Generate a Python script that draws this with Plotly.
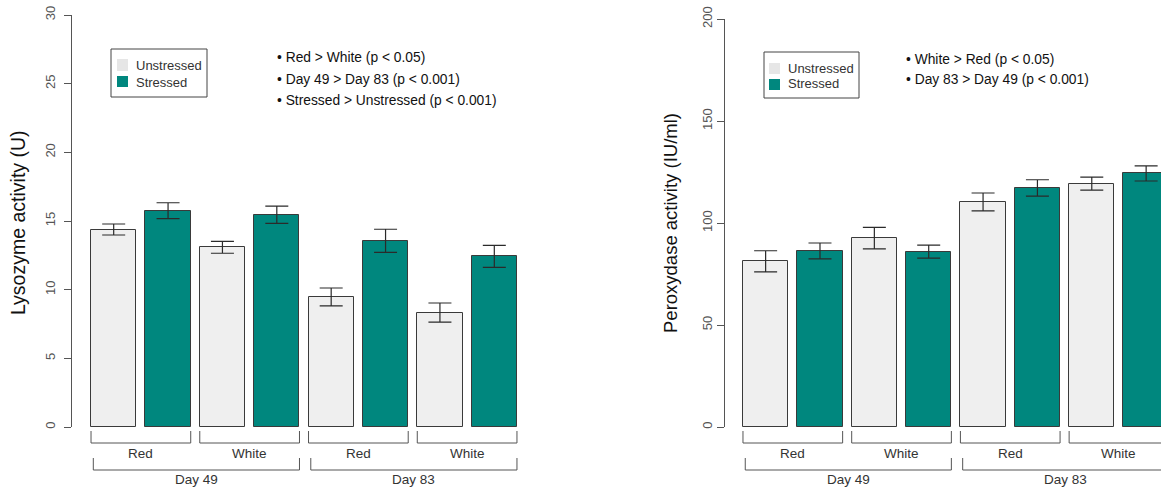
import plotly.graph_objects as go

# ---------------- data ----------------
conditions = ["Unstressed", "Stressed"]
groups = ["Red", "White", "Red", "White"]
days = ["Day 49", "Day 83"]

lyso_unstressed = [14.38, 13.08, 9.47, 8.33]
lyso_unstressed_err = [0.40, 0.43, 0.65, 0.70]
lyso_stressed = [15.75, 15.45, 13.56, 12.42]
lyso_stressed_err = [0.58, 0.63, 0.84, 0.80]

perox_unstressed = [81.2, 92.6, 110.3, 119.3]
perox_unstressed_err = [5.2, 5.3, 4.4, 3.2]
perox_stressed = [86.3, 86.0, 117.2, 124.3]
perox_stressed_err = [3.9, 3.2, 4.0, 3.7]

lyso_notes = ["\u2022 Red > White (p < 0.05)",
              "\u2022 Day 49 > Day 83 (p < 0.001)",
              "\u2022 Stressed > Unstressed (p < 0.001)"]
perox_notes = ["\u2022 White > Red (p < 0.05)",
               "\u2022 Day 83 > Day 49 (p < 0.001)"]

lyso_title = "Lysozyme activity (U)"
perox_title = "Peroxydase activity (IU/ml)"

# ---------------- helpers ----------------
W, H = 1161, 488
FONT = "Liberation Sans, Arial, sans-serif"
TEAL = "#00877E"
LIGHT = "#EFEFEF"
EDGE = "#3A3A3A"


def px(p):
    return p / W


def py(p):
    return 1 - p / H


# R barplot style positions: width 1, space 0.2
n_bars = 8
centers = [0.7 + 1.2 * i for i in range(n_bars)]
left_edge = [c - 0.5 for c in centers]
right_edge = [c + 0.5 for c in centers]
unstressed_x = centers[0::2]
stressed_x = centers[1::2]

fig = go.Figure()


def add_panel(xa, ya, unst, unst_err, st, st_err):
    fig.add_trace(go.Bar(
        x=unstressed_x, y=unst, width=1, name=conditions[0],
        marker=dict(color=LIGHT, line=dict(color=EDGE, width=1)),
        error_y=dict(type="data", array=unst_err, visible=True,
                     color="#2a2a2a", thickness=1.2, width=11.5),
        xaxis=xa, yaxis=ya, showlegend=False))
    fig.add_trace(go.Bar(
        x=stressed_x, y=st, width=1, name=conditions[1],
        marker=dict(color=TEAL, line=dict(color=EDGE, width=1)),
        error_y=dict(type="data", array=st_err, visible=True,
                     color="#2a2a2a", thickness=1.2, width=11.5),
        xaxis=xa, yaxis=ya, showlegend=False))


add_panel("x", "y", lyso_unstressed, lyso_unstressed_err, lyso_stressed, lyso_stressed_err)
add_panel("x2", "y2", perox_unstressed, perox_unstressed_err, perox_stressed, perox_stressed_err)

axis_common = dict(showgrid=False, zeroline=False, automargin=False)
yax_common = dict(
    showgrid=False, zeroline=False, showline=True, linecolor="#555", linewidth=1,
    ticks="outside", ticklen=7, tickcolor="#555", tickangle=-90, automargin=False,
    tickfont=dict(family=FONT, size=13, color="#555"),
)

fig.update_layout(
    width=W, height=H,
    margin=dict(l=0, r=0, t=0, b=0, autoexpand=False),
    paper_bgcolor="white", plot_bgcolor="white",
    font=dict(family=FONT, color="#222"),
    bargap=0,
    showlegend=False,
    xaxis=dict(domain=[px(72), px(534)], range=[-0.22, 9.976],
               showticklabels=False, showline=False, ticks="", **axis_common),
    yaxis=dict(domain=[py(427), py(15)], range=[0, 30], ticklabelstandoff=4,
               tickvals=[0, 5, 10, 15, 20, 25, 30], **yax_common),
    xaxis2=dict(domain=[px(725), 1.0], range=[-0.197, 9.428], anchor="y2",
                showticklabels=False, showline=False, ticks="", **axis_common),
    yaxis2=dict(domain=[py(427), py(19)], range=[0, 200], anchor="x2",
                tickvals=[0, 50, 100, 150, 200], **yax_common),
)

shapes = []
annotations = []

# brackets under the bars
BR_COL = "#555"


def bracket(xref, x0, x1, ytop, ybot):
    return dict(type="path", xref=xref, yref="paper",
                path=f"M{x0},{py(ytop)} L{x0},{py(ybot)} L{x1},{py(ybot)} L{x1},{py(ytop)}",
                line=dict(color=BR_COL, width=1))


for xref in ["x", "x2"]:
    for j, g in enumerate(groups):
        x0, x1 = left_edge[2 * j], right_edge[2 * j + 1]
        shapes.append(bracket(xref, x0, x1, 431, 443))
        annotations.append(dict(xref=xref, yref="paper", x=(x0 + x1) / 2, y=py(453),
                                text=g, showarrow=False, xanchor="center", yanchor="middle",
                                font=dict(family=FONT, size=13.5, color="#333")))
    for d, day in enumerate(days):
        x0, x1 = left_edge[4 * d] + 0.05, right_edge[4 * d + 3]
        shapes.append(bracket(xref, x0, x1, 458, 470))
        annotations.append(dict(xref=xref, yref="paper", x=(x0 + x1) / 2, y=py(479),
                                text=day, showarrow=False, xanchor="center", yanchor="middle",
                                font=dict(family=FONT, size=13.5, color="#333")))

# manual legends


def legend(box, sq_x, sq_ys, txt_x, txt_ys):
    bx0, by0, bx1, by1 = box
    shapes.append(dict(type="rect", xref="paper", yref="paper",
                       x0=px(bx0), x1=px(bx1), y0=py(by1), y1=py(by0),
                       line=dict(color="#444", width=1), fillcolor="white"))
    for (y0, y1), col in zip(sq_ys, ["#E6E6E6", TEAL]):
        shapes.append(dict(type="rect", xref="paper", yref="paper",
                           x0=px(sq_x[0]), x1=px(sq_x[1]), y0=py(y1), y1=py(y0),
                           line=dict(width=0), fillcolor=col))
    for ty, label in zip(txt_ys, conditions):
        annotations.append(dict(xref="paper", yref="paper", x=px(txt_x), y=py(ty),
                                text=label, showarrow=False, xanchor="left", yanchor="middle",
                                font=dict(family=FONT, size=13, color="#333")))


legend((111, 49, 207, 97), (117, 128), [(59, 71), (76, 87)], 134, [66, 82])
legend((764, 52, 859, 98), (769, 780), [(63, 74), (79, 90)], 786, [68, 84])

# significance notes
for k, t in enumerate(lyso_notes):
    annotations.append(dict(xref="paper", yref="paper", x=px(275), y=py(58 + 21 * k),
                            text=t, showarrow=False, xanchor="left", yanchor="middle",
                            font=dict(family=FONT, size=13.8, color="#111")))
for k, t in enumerate(perox_notes):
    annotations.append(dict(xref="paper", yref="paper", x=px(904), y=py(59 + 20 * k),
                            text=t, showarrow=False, xanchor="left", yanchor="middle",
                            font=dict(family=FONT, size=13.8, color="#111")))

# y-axis titles
annotations.append(dict(xref="paper", yref="paper", x=px(18), y=py(223), text=lyso_title,
                        textangle=-90, showarrow=False, xanchor="center", yanchor="middle",
                        font=dict(family=FONT, size=19.5, color="#111")))
annotations.append(dict(xref="paper", yref="paper", x=px(670), y=py(223), text=perox_title,
                        textangle=-90, showarrow=False, xanchor="center", yanchor="middle",
                        font=dict(family=FONT, size=18.5, color="#111")))

fig.update_layout(shapes=shapes, annotations=annotations)

fig.write_html(
    "out.html",
    config={"displayModeBar": False},
    post_script="document.body.style.margin='0';document.body.style.overflow='hidden';",
)
